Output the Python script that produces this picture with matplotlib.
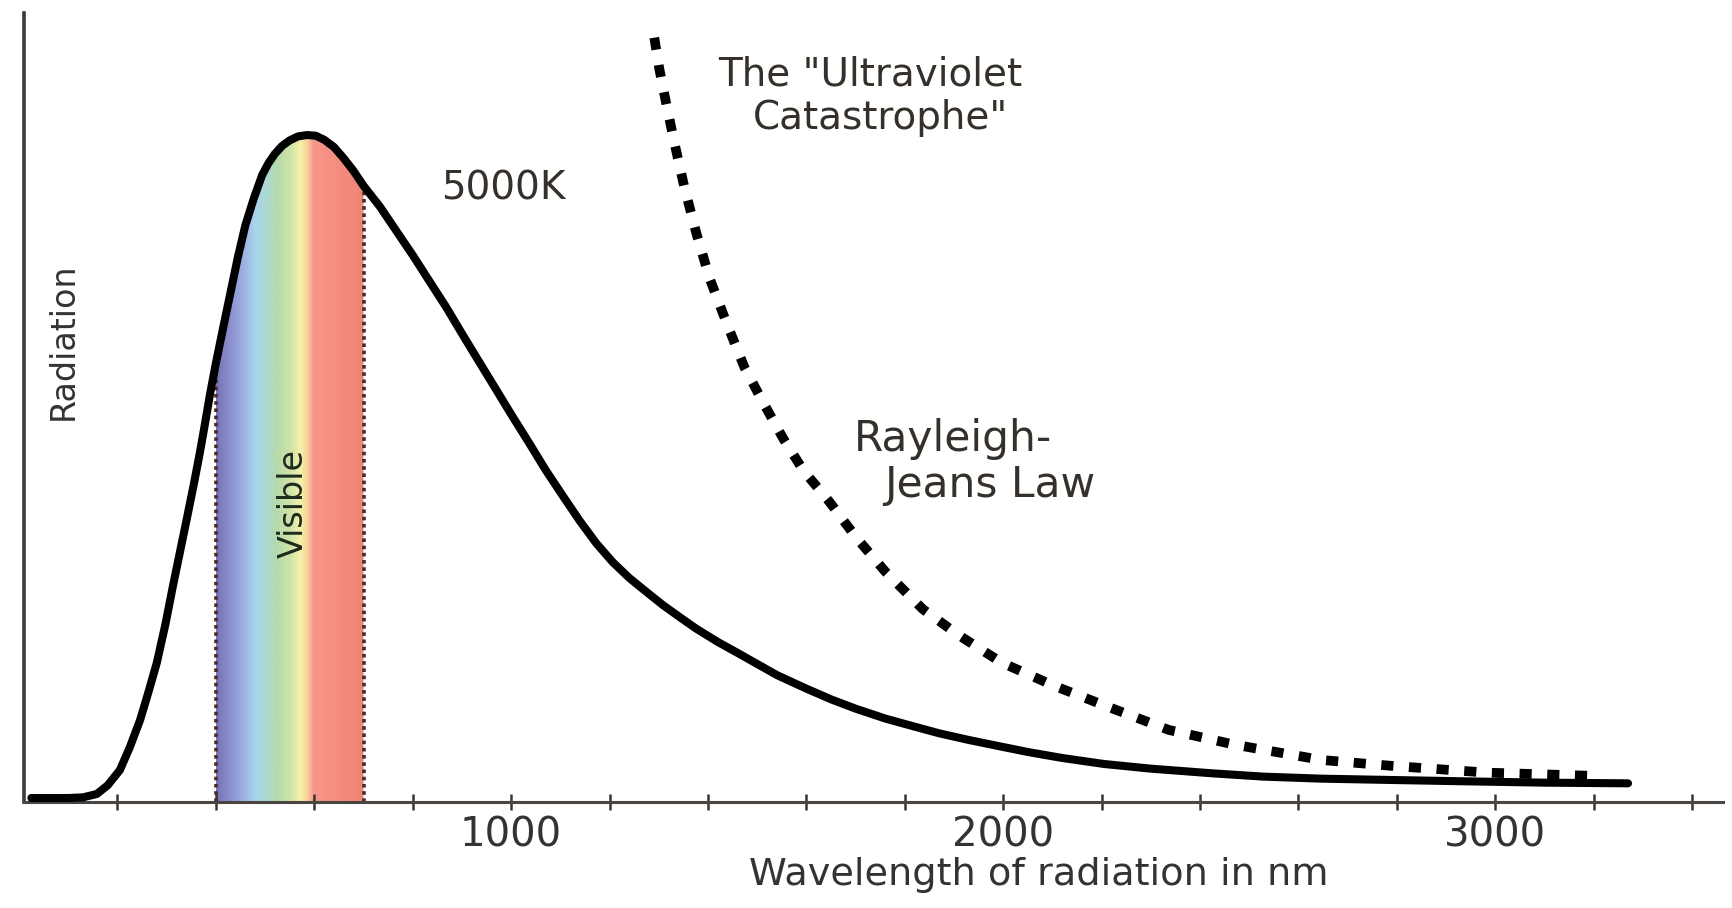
import matplotlib.pyplot as plt
import numpy as np
from matplotlib.colors import LinearSegmentedColormap

# 5000K curve, wavelength (nm) vs relative radiation
planck_nm = [25, 70, 100, 130, 158, 180, 205, 225, 246, 263, 280, 297, 313, 327, 341,
             355, 368, 378, 388, 400, 415, 430, 445, 460, 477, 494, 507, 520, 535, 550,
             567, 585, 603, 620, 640, 660, 680, 700, 733, 766, 800, 833, 868, 902, 935,
             969, 1002, 1036, 1070, 1106, 1140, 1173, 1206, 1240, 1275, 1309, 1345, 1376,
             1420, 1464, 1500, 1541, 1600, 1650, 1700, 1761, 1820, 1870, 1930, 1983, 2050,
             2120, 2205, 2300, 2425, 2530, 2647, 2790, 2940, 3100, 3270]
planck_val = [0.006, 0.006, 0.006, 0.007, 0.012, 0.025, 0.048, 0.082, 0.123, 0.165, 0.209,
              0.265, 0.325, 0.375, 0.425, 0.476, 0.526, 0.568, 0.611, 0.658, 0.712, 0.765,
              0.818, 0.865, 0.905, 0.940, 0.958, 0.972, 0.984, 0.992, 0.998, 1.000, 0.999,
              0.993, 0.982, 0.965, 0.946, 0.924, 0.893, 0.857, 0.820, 0.782, 0.742, 0.700,
              0.660, 0.619, 0.579, 0.539, 0.498, 0.458, 0.421, 0.388, 0.360, 0.336, 0.315,
              0.295, 0.276, 0.260, 0.240, 0.222, 0.207, 0.190, 0.170, 0.154, 0.140, 0.125,
              0.113, 0.103, 0.093, 0.085, 0.075, 0.066, 0.057, 0.050, 0.043, 0.038, 0.035,
              0.033, 0.031, 0.029, 0.028]

# Rayleigh-Jeans law (dotted)
rj_nm = [1291, 1301, 1315, 1332, 1352, 1376, 1403, 1437, 1474, 1513, 1553, 1594, 1647,
         1702, 1761, 1837, 1910, 1997, 2101, 2205, 2337, 2470, 2647, 2793, 2985, 3207]
rj_val = [1.146, 1.100, 1.048, 0.988, 0.922, 0.854, 0.786, 0.720, 0.652, 0.598, 0.545,
          0.497, 0.450, 0.396, 0.345, 0.289, 0.250, 0.209, 0.175, 0.145, 0.108, 0.086,
          0.063, 0.054, 0.044, 0.039]

visible = (400, 700)
spectrum_nm = [400, 425, 450, 478, 500, 522, 550, 572, 585, 598, 650, 700]
spectrum_colors = ["#7773b4", "#8a8ccb", "#9aaadf", "#a8d4ec", "#acd9d6", "#b4d9ac",
                   "#cfe3a8", "#f6f1a8", "#f9d29a", "#f5978a", "#f48d7f", "#ef8577"]

tick_nm = list(range(200, 3401, 200))
tick_labels = [str(t) if t % 1000 == 0 else "" for t in tick_nm]

fig = plt.figure(figsize=(17.33, 9.08), dpi=100)
ax = fig.add_axes([24 / 1733, 106 / 908, 1699 / 1733, 789 / 908])

x = np.array(planck_nm)
y = np.array(planck_val)

# rainbow band under the curve for the visible range
vis = (x >= visible[0]) & (x <= visible[1])
band = ax.fill_between(x[vis], 0, y[vis], color="none", lw=0)
stops = [((n - visible[0]) / (visible[1] - visible[0]), c) for n, c in zip(spectrum_nm, spectrum_colors)]
cmap = LinearSegmentedColormap.from_list("spectrum", stops)
im = ax.imshow(np.linspace(0, 1, 400).reshape(1, -1), cmap=cmap, aspect="auto",
               extent=[visible[0], visible[1], 0, 1.05], zorder=1)
im.set_clip_path(band.get_paths()[0], transform=ax.transData)

edge_vals = [planck_val[planck_nm.index(v)] for v in visible]
ax.vlines(visible, 0, edge_vals, colors="#4a2a2a", lw=2.6, linestyles=(0, (1, 1)), zorder=2)

ax.plot(x, y, color="black", lw=5.8, solid_joinstyle="round", solid_capstyle="round", zorder=3)
ax.plot(rj_nm, rj_val, color="black", lw=7, dashes=(1.25, 1.6), dash_capstyle="butt", zorder=3)

ax.set_xlim(10, 3463)
ax.set_ylim(0, 1.183)
ax.set_xticks(tick_nm)
ax.set_xticklabels(tick_labels)
ax.set_yticks([])
ax.tick_params(axis="x", direction="inout", length=12, width=1.8, color="#3a3530",
               pad=3.5, labelsize=29, labelcolor="#333333")
for s in ["top", "right"]:
    ax.spines[s].set_visible(False)
ax.spines["bottom"].set_color("#4a4540")
ax.spines["bottom"].set_linewidth(2.2)
ax.spines["left"].set_color("#3c3c3c")
ax.spines["left"].set_linewidth(2.6)
ax.patch.set_alpha(0)

txt = "#35302a"
ax.text(89, 0.691, "Radiation", rotation=90, ha="center", va="center", fontsize=24, color="#333333")
ax.text(557, 0.448, "Visible", rotation=90, ha="center", va="center", fontsize=24, color="#1e2a1e")
ax.text(984, 0.904, "5000K", ha="center", va="baseline", fontsize=28, color=txt)
ax.text(1730, 1.075, 'The "Ultraviolet', ha="center", va="baseline", fontsize=28, color=txt)
ax.text(1750, 1.009, 'Catastrophe"', ha="center", va="baseline", fontsize=28, color=txt)
ax.text(1898, 0.526, "Rayleigh-", ha="center", va="baseline", fontsize=30.5, color=txt)
ax.text(1972, 0.457, "Jeans Law", ha="center", va="baseline", fontsize=30.5, color=txt)
ax.text(2073, -0.125, "Wavelength of radiation in nm", ha="center", va="baseline",
        fontsize=27.5, color="#333333", clip_on=False)

fig.savefig("out.png", dpi=100, facecolor="white")
